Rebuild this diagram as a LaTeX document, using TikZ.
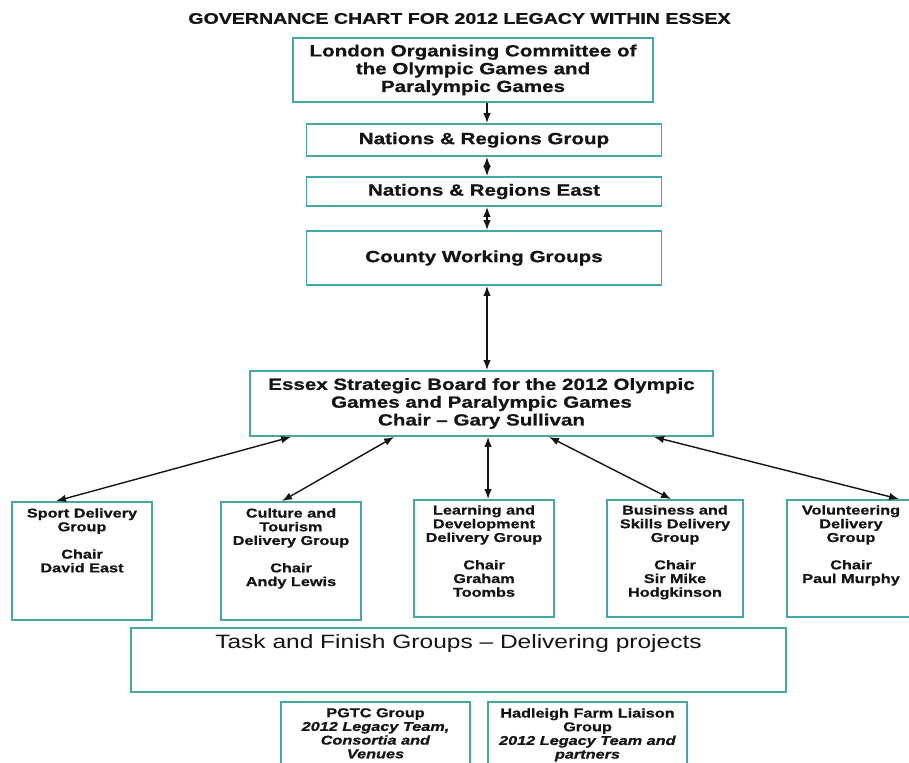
\documentclass[tikz,border=0pt]{standalone}
\usepackage{fontspec}
\setmainfont{Liberation Sans}[FakeStretch=1.27, BoldFeatures={FakeBold=0.8}, BoldItalicFeatures={FakeBold=0.8}]
\usetikzlibrary{arrows.meta}
\definecolor{boxteal}{RGB}{66,168,168}
\definecolor{ink}{RGB}{20,20,20}
\tikzset{
  gbox/.style={draw=boxteal, line width=1.9pt, fill=white, inner sep=0pt, align=center, text=ink},
  bigtxt/.style={font=\fontsize{16.2}{17.8}\selectfont\bfseries},
  smtxt/.style={font=\fontsize{12.8}{13.7}\selectfont\bfseries, text=ink, align=center, inner sep=0pt, anchor=north},
  arr/.style={-{Latex[length=10pt,width=7.5pt]}, line width=1.4pt, draw=ink},
  darr/.style={{Latex[length=10pt,width=7.5pt]}-{Latex[length=10pt,width=7.5pt]}, line width=1.4pt, draw=ink},
}
\begin{document}
\begin{tikzpicture}[x=1pt,y=-1pt]
\useasboundingbox[fill=white] (0,0) rectangle (909,762);

\node[font=\fontsize{15.4}{18}\selectfont\bfseries, text=ink, inner sep=0pt] (title) at (459.5,18.5) {GOVERNANCE CHART FOR 2012 LEGACY WITHIN ESSEX};

\node[gbox, bigtxt, minimum width=360pt, minimum height=64pt] (locog) at (473,70) {London Organising Committee of\\the Olympic Games and\\Paralympic Games};
\node[gbox, bigtxt, minimum width=355pt, minimum height=32pt] (nrg) at (484,140) {Nations \& Regions Group};
\node[gbox, bigtxt, minimum width=355pt, minimum height=29pt] (nre) at (484,191.5) {Nations \& Regions East};
\node[gbox, bigtxt, minimum width=355pt, minimum height=54pt] (cwg) at (484,258) {County Working Groups};
\node[gbox, bigtxt, minimum width=463pt, minimum height=65pt] (esb) at (481.5,403.5) {Essex Strategic Board for the 2012 Olympic\\Games and Paralympic Games\\Chair – Gary Sullivan};

\node[gbox, minimum width=140pt, minimum height=118pt] (sport) at (82,561) {};
\node[gbox, minimum width=140pt, minimum height=118pt] (culture) at (291,561) {};
\node[gbox, minimum width=140pt, minimum height=117pt] (learn) at (484,558.5) {};
\node[gbox, minimum width=136pt, minimum height=117pt] (bus) at (675,558.5) {};
\node[gbox, minimum width=128pt, minimum height=117pt] (vol) at (851,558.5) {};

\node[smtxt] (sportT) at ([yshift=-7pt]sport.north) {Sport Delivery\\Group\\[13.7pt]Chair\\David East};
\node[smtxt] (cultureT) at ([yshift=-7pt]culture.north) {Culture and\\Tourism\\Delivery Group\\[13.7pt]Chair\\Andy Lewis};
\node[smtxt] (learnT) at ([yshift=-6pt]learn.north) {Learning and\\Development\\Delivery Group\\[13.7pt]Chair\\Graham\\Toombs};
\node[smtxt] (busT) at ([yshift=-6pt]bus.north) {Business and\\Skills Delivery\\Group\\[13.7pt]Chair\\Sir Mike\\Hodgkinson};
\node[smtxt] (volT) at ([yshift=-6pt]vol.north) {Volunteering\\Delivery\\Group\\[13.7pt]Chair\\Paul Murphy};

\node[gbox, minimum width=655pt, minimum height=64pt] (task) at (458.5,660) {};
\node[font=\fontsize{19.3}{21}\selectfont, text=ink, inner sep=0pt, anchor=north] (taskT) at ([yshift=-7pt]task.north) {Task and Finish Groups – Delivering projects};

\node[gbox, minimum width=189pt, minimum height=68pt] (pgtc) at (375.5,736) {};
\node[gbox, minimum width=199pt, minimum height=68pt] (had) at (587.5,736) {};
\node[smtxt] (pgtcT) at ([yshift=-7pt]pgtc.north) {PGTC Group\\\textit{2012 Legacy Team,}\\\textit{Consortia and}\\\textit{Venues}};
\node[smtxt] (hadT) at ([yshift=-7pt]had.north) {Hadleigh Farm Liaison\\Group\\\textit{2012 Legacy Team and}\\\textit{partners}};

\draw[arr] ([xshift=3pt]nrg.north |- locog.south) -- ([xshift=3pt]nrg.north);
\draw[darr] ([xshift=3pt]nrg.south) -- ([xshift=3pt]nre.north);
\draw[darr] ([xshift=3pt]nre.south) -- ([xshift=3pt]cwg.north);
\draw[darr] ([xshift=3pt]cwg.south) -- ([xshift=3pt]cwg.south |- esb.north);

\draw[darr] ([xshift=42pt]esb.south west) -- ([xshift=45pt]sport.north west);
\draw[darr] ([xshift=145pt]esb.south west) -- ([xshift=62pt]culture.north west);
\draw[darr] ([xshift=239pt]esb.south west) -- ([xshift=75pt]learn.north west);
\draw[darr] ([xshift=300pt]esb.south west) -- ([xshift=65pt]bus.north west);
\draw[darr] ([xshift=405pt]esb.south west) -- ([xshift=113pt]vol.north west);
\end{tikzpicture}
\end{document}
